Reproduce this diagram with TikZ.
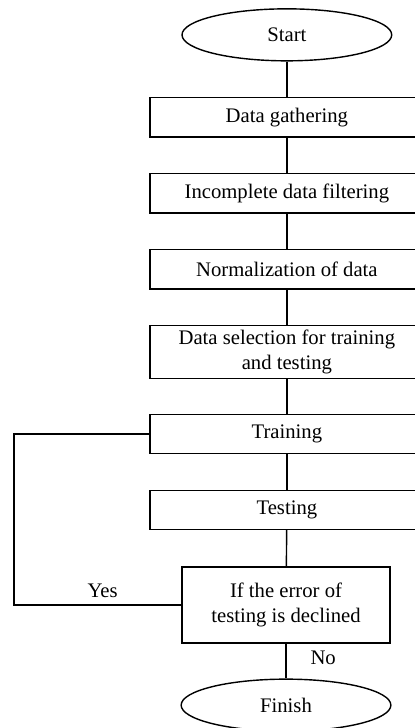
\documentclass[tikz,border=0pt]{standalone}
\usepackage{fontspec}
\setmainfont{Liberation Serif}
\usetikzlibrary{shapes.geometric}

\begin{document}
\begin{tikzpicture}[x=1cm,y=1cm,
    line width=.7pt,
    every node/.style={font=\fontsize{10.3}{12.4}\selectfont},
    stepbox/.style={rectangle,minimum width=4.76cm,minimum height=.665cm,align=center,inner sep=2pt},
    termnode/.style={draw,ellipse,minimum width=3.67cm,minimum height=.91cm,inner sep=0pt}]
    \path[use as bounding box] (0,0) rectangle (7.245,12.74);
    \node[termnode] (start) at (5.02,12.13) {Start};
    \node[stepbox] (gather) at (5.02,10.69) {Data gathering};
    \node[stepbox] (filter) at (5.02,9.36) {Incomplete data filtering};
    \node[stepbox] (norm) at (5.02,8.03) {Normalization of data};
    \node[stepbox,minimum height=.875cm] (select) at (5.02,6.58) {Data selection for training\\and testing};
    \node[stepbox] (train) at (5.02,5.145) {Training};
    \node[stepbox] (test) at (5.02,3.815) {Testing};
    \node[draw,rectangle,minimum width=3.64cm,minimum height=1.33cm,align=center] (decide) at (5.005,2.15) {If the error of\\testing is declined};
    \node[termnode] (finish) at (5.005,.40) {Finish};
    % boxes are cut at the right edge, so only three sides show
    \foreach \n in {gather,filter,norm,select,train,test} {
      \draw (\n.north east) -- (\n.north west) -- (\n.south west) -- (\n.south east);
    }
    \coordinate (back) at (.245,2.15);
    \draw (start) -- (gather);
    \draw (gather) -- (filter);
    \draw (filter) -- (norm);
    \draw (norm) -- (select);
    \draw (select) -- (train);
    \draw (train) -- (test);
    \draw (test) -- (decide);
    \draw (decide) -- node[pos=.4,right=.3cm] (no) {No} (finish);
    \draw (decide.west) -- node[pos=.47,above] (yes) {Yes} (back) |- (train.west);
  \end{tikzpicture}
\end{document}
